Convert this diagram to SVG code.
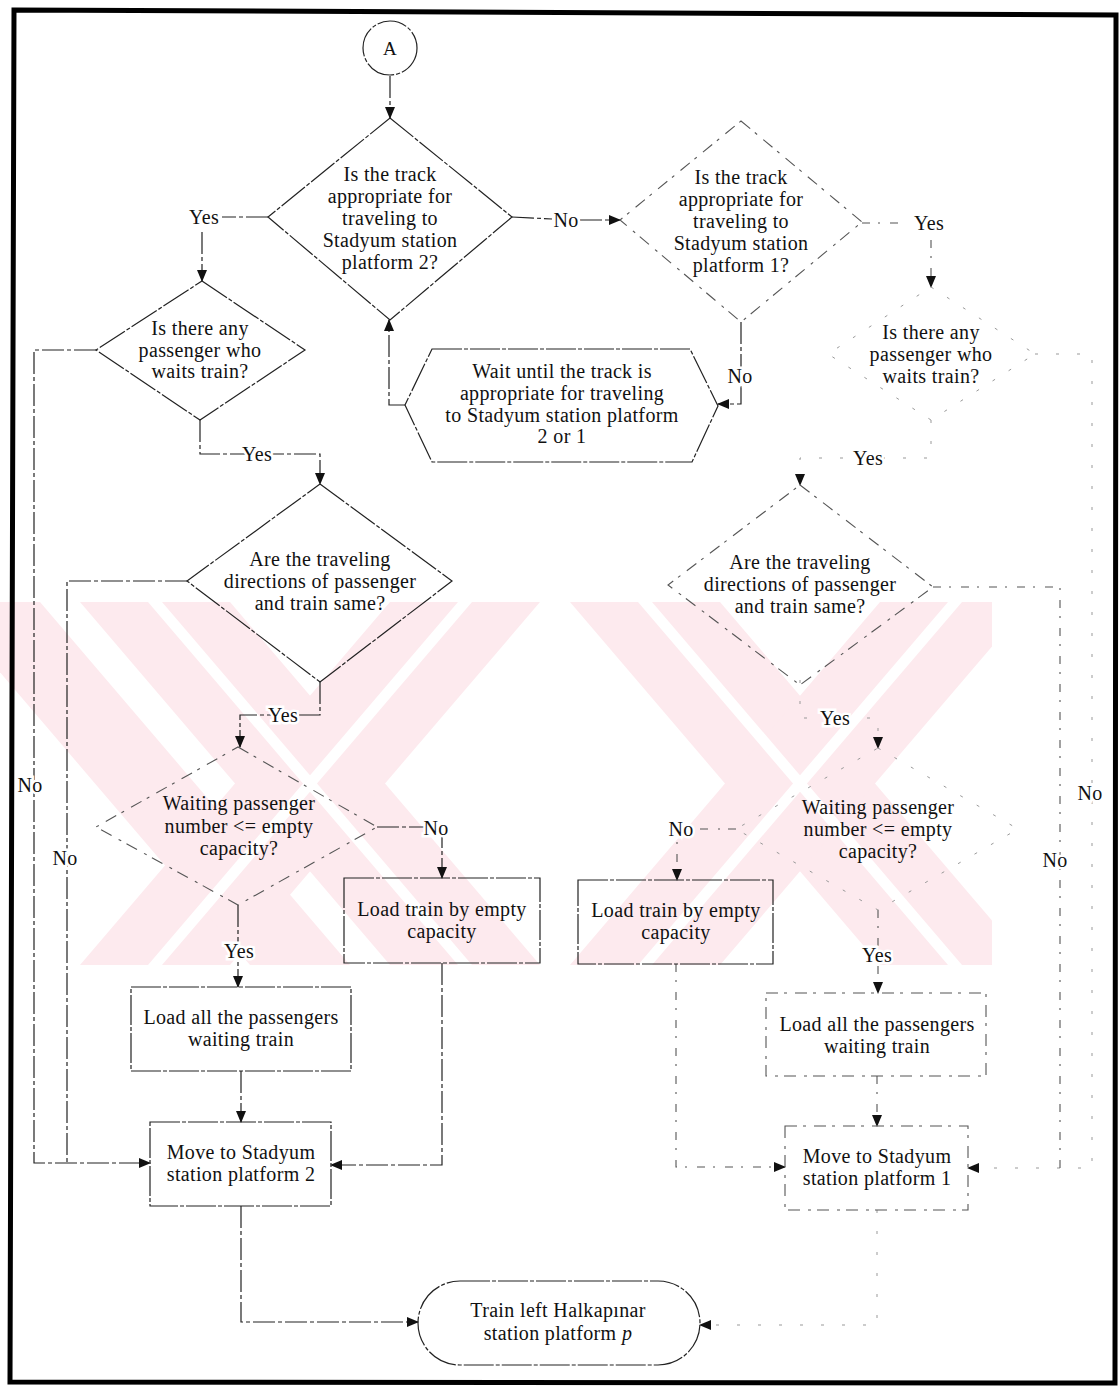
<svg xmlns="http://www.w3.org/2000/svg" width="1120" height="1386" viewBox="0 0 1120 1386">
  <defs>
    <style>
      .t { font-family: "Liberation Serif", "Times New Roman", serif; font-size: 20px; letter-spacing: 0.35px; fill: #111; text-anchor: middle; }
      .lbl { font-family: "Liberation Serif", "Times New Roman", serif; font-size: 20px; letter-spacing: 0.3px; fill: #111; text-anchor: middle; stroke: #fff; stroke-width: 5px; paint-order: stroke; }
      .shape { fill: none; stroke: #222; stroke-width: 1.2; stroke-dasharray: 30 2 4 2; }
      .faded { fill: none; stroke: #555; stroke-width: 1.1; stroke-dasharray: 12 6 3 8; }
      .ghost { fill: none; stroke: #999; stroke-width: 1; stroke-dasharray: 3 16; }
      .con { fill: none; stroke: #222; stroke-width: 1.2; stroke-dasharray: 22 3 4 3; }
      .conf { fill: none; stroke: #555; stroke-width: 1.1; stroke-dasharray: 8 8 2 10; }
      .cong { fill: none; stroke: #999; stroke-width: 1; stroke-dasharray: 3 18; }
      .wm { fill: #fdeaee; }
      .wg { fill: #ffffff; }
    </style>
    <marker id="arr" markerUnits="userSpaceOnUse" markerWidth="12" markerHeight="10" refX="11" refY="5" orient="auto">
      <path d="M0,0 L12,5 L0,10 Z" fill="#111"/>
    </marker>
    <clipPath id="band">
      <rect x="0" y="602" width="992" height="363"/>
    </clipPath>
  </defs>

  <rect x="0" y="0" width="1120" height="1386" fill="#fff"/>

  <!-- background stripe emblem: two crossed double bands -->
  <g id="watermark" clip-path="url(#band)">
    <polygon class="wm" points="80,602 230,602 540,965 390,965"/>
    <polygon class="wm" points="390,602 540,602 230,965 80,965"/>
    <polygon class="wm" points="570,602 720,602 1030,965 880,965"/>
    <polygon class="wm" points="880,602 1030,602 720,965 570,965"/>
    <polygon class="wm" points="-60,602 40,602 350,965 250,965"/>
    <polygon class="wg" points="148,602 162,602 472,965 458,965"/>
    <polygon class="wg" points="458,602 472,602 162,965 148,965"/>
    <polygon class="wg" points="638,602 652,602 962,965 948,965"/>
    <polygon class="wg" points="948,602 962,602 652,965 638,965"/>
  </g>

  <!-- page frame -->
  <path d="M14,10 L1116,15 L1115,1383 L10,1382 Z" fill="none" stroke="#000" stroke-width="5"/>

  <!-- connectors -->
  <g id="connectors">
    <path class="con" d="M390,76 V118" marker-end="url(#arr)"/>
    <path class="con" d="M268,217 H222"/>
    <path class="con" d="M202,232 V281" marker-end="url(#arr)"/>
    <path class="con" d="M512,217 L552,219"/>
    <path class="con" d="M580,220 H620" marker-end="url(#arr)"/>
    <path class="con" d="M741,322 V404 H718" marker-end="url(#arr)"/>
    <path class="con" d="M405,405 H389 V320" marker-end="url(#arr)"/>
    <path class="con" d="M96,350 H34 V1163 H150" marker-end="url(#arr)"/>
    <path class="con" d="M200,420 V454 H320 V484" marker-end="url(#arr)"/>
    <path class="con" d="M187,581 H67 V1163"/>
    <path class="con" d="M320,682 V715 H240 V747" marker-end="url(#arr)"/>
    <path class="con" d="M377,827 H442 V878" marker-end="url(#arr)"/>
    <path class="con" d="M238,905 V987" marker-end="url(#arr)"/>
    <path class="con" d="M241,1071 V1122" marker-end="url(#arr)"/>
    <path class="con" d="M442,963 V1165 H331" marker-end="url(#arr)"/>
    <path class="con" d="M241,1206 V1322 H418" marker-end="url(#arr)"/>
    <path class="conf" d="M862,223 H905"/>
    <path class="conf" d="M931,240 V287" marker-end="url(#arr)"/>
    <path class="cong" d="M1035,354 H1092 V1168 H968" marker-end="url(#arr)"/>
    <path class="cong" d="M931,420 V458 H800 V485" marker-end="url(#arr)"/>
    <path class="conf" d="M933,587 H1060 V1168"/>
    <path class="cong" d="M800,680 V718 H878 V748" marker-end="url(#arr)"/>
    <path class="conf" d="M736,829 H677 V880" marker-end="url(#arr)"/>
    <path class="conf" d="M878,910 V993" marker-end="url(#arr)"/>
    <path class="conf" d="M877,1076 V1126" marker-end="url(#arr)"/>
    <path class="conf" d="M676,964 V1167 H785" marker-end="url(#arr)"/>
    <path class="cong" d="M877,1210 V1325 H700" marker-end="url(#arr)"/>

    <text class="lbl" x="204" y="224">Yes</text>
    <text class="lbl" x="566" y="227">No</text>
    <text class="lbl" x="740" y="383">No</text>
    <text class="lbl" x="929" y="230">Yes</text>
    <text class="lbl" x="257" y="461">Yes</text>
    <text class="lbl" x="868" y="465">Yes</text>
    <text class="lbl" x="30" y="792">No</text>
    <text class="lbl" x="65" y="865">No</text>
    <text class="lbl" x="283" y="722">Yes</text>
    <text class="lbl" x="835" y="725">Yes</text>
    <text class="lbl" x="436" y="835">No</text>
    <text class="lbl" x="681" y="836">No</text>
    <text class="lbl" x="239" y="958">Yes</text>
    <text class="lbl" x="877" y="962">Yes</text>
    <text class="lbl" x="1090" y="800">No</text>
    <text class="lbl" x="1055" y="867">No</text>
  </g>

  <!-- connector A -->
  <g id="node-a">
    <circle class="shape" cx="390" cy="48" r="27"/>
    <text class="t" x="390" y="55" style="font-size:19px">A</text>
  </g>

  <g id="node-track-p2">
    <polygon class="shape" points="390,118 512,217 390,320 268,217"/>
    <text class="t" x="390" y="181">Is the track</text>
    <text class="t" x="390" y="203">appropriate for</text>
    <text class="t" x="390" y="225">traveling to</text>
    <text class="t" x="390" y="247">Stadyum station</text>
    <text class="t" x="390" y="269">platform 2?</text>
  </g>

  <g id="node-track-p1">
    <polygon class="faded" points="741,121 862,222 741,322 620,220"/>
    <text class="t" x="741" y="184">Is the track</text>
    <text class="t" x="741" y="206">appropriate for</text>
    <text class="t" x="741" y="228">traveling to</text>
    <text class="t" x="741" y="250">Stadyum station</text>
    <text class="t" x="741" y="272">platform 1?</text>
  </g>

  <g id="node-wait">
    <polygon class="shape" points="432,349 690,349 718,406 692,462 432,462 405,405"/>
    <text class="t" x="562" y="378">Wait until the track is</text>
    <text class="t" x="562" y="400">appropriate for traveling</text>
    <text class="t" x="562" y="422">to Stadyum station platform</text>
    <text class="t" x="562" y="443">2 or 1</text>
  </g>

  <g id="node-waiting-p2">
    <polygon class="shape" points="202,281 305,350 200,420 96,350"/>
    <text class="t" x="200" y="335">Is there any</text>
    <text class="t" x="200" y="357">passenger who</text>
    <text class="t" x="200" y="378">waits train?</text>
  </g>

  <g id="node-waiting-p1">
    <polygon class="ghost" points="931,287 1035,354 931,420 828,354"/>
    <text class="t" x="931" y="339">Is there any</text>
    <text class="t" x="931" y="361">passenger who</text>
    <text class="t" x="931" y="383">waits train?</text>
  </g>

  <g id="node-direction-p2">
    <polygon class="shape" points="320,484 452,581 320,682 187,581"/>
    <text class="t" x="320" y="566">Are the traveling</text>
    <text class="t" x="320" y="588">directions of passenger</text>
    <text class="t" x="320" y="610">and train same?</text>
  </g>

  <g id="node-direction-p1">
    <polygon class="faded" points="800,485 933,587 800,685 668,585"/>
    <text class="t" x="800" y="569">Are the traveling</text>
    <text class="t" x="800" y="591">directions of passenger</text>
    <text class="t" x="800" y="613">and train same?</text>
  </g>

  <g id="node-capacity-p2">
    <polygon class="faded" points="238,747 377,827 238,905 96,827"/>
    <text class="t" x="239" y="810">Waiting passenger</text>
    <text class="t" x="239" y="833">number &lt;= empty</text>
    <text class="t" x="239" y="855">capacity?</text>
  </g>

  <g id="node-capacity-p1">
    <polygon class="ghost" points="878,748 1018,829 878,910 736,829"/>
    <text class="t" x="878" y="814">Waiting passenger</text>
    <text class="t" x="878" y="836">number &lt;= empty</text>
    <text class="t" x="878" y="858">capacity?</text>
  </g>

  <g id="node-partial-load-p2">
    <rect class="shape" x="344" y="878" width="196" height="85"/>
    <text class="t" x="442" y="916">Load train by empty</text>
    <text class="t" x="442" y="938">capacity</text>
  </g>

  <g id="node-partial-load-p1">
    <rect class="shape" x="578" y="880" width="195" height="84"/>
    <text class="t" x="676" y="917">Load train by empty</text>
    <text class="t" x="676" y="939">capacity</text>
  </g>

  <g id="node-full-load-p2">
    <rect class="shape" x="131" y="987" width="220" height="84"/>
    <text class="t" x="241" y="1024">Load all the passengers</text>
    <text class="t" x="241" y="1046">waiting train</text>
  </g>

  <g id="node-full-load-p1">
    <rect class="faded" x="766" y="993" width="220" height="83"/>
    <text class="t" x="877" y="1031">Load all the passengers</text>
    <text class="t" x="877" y="1053">waiting train</text>
  </g>

  <g id="node-move-p2">
    <rect class="shape" x="150" y="1122" width="181" height="84"/>
    <text class="t" x="241" y="1159">Move to Stadyum</text>
    <text class="t" x="241" y="1181">station platform 2</text>
  </g>

  <g id="node-move-p1">
    <rect class="faded" x="785" y="1126" width="183" height="84"/>
    <text class="t" x="877" y="1163">Move to Stadyum</text>
    <text class="t" x="877" y="1185">station platform 1</text>
  </g>

  <g id="node-left">
    <rect class="shape" x="418" y="1281" width="282" height="84" rx="42"/>
    <text class="t" x="558" y="1317">Train left Halkapınar</text>
    <text class="t" x="558" y="1340">station platform <tspan font-style="italic">p</tspan></text>
  </g>
</svg>
